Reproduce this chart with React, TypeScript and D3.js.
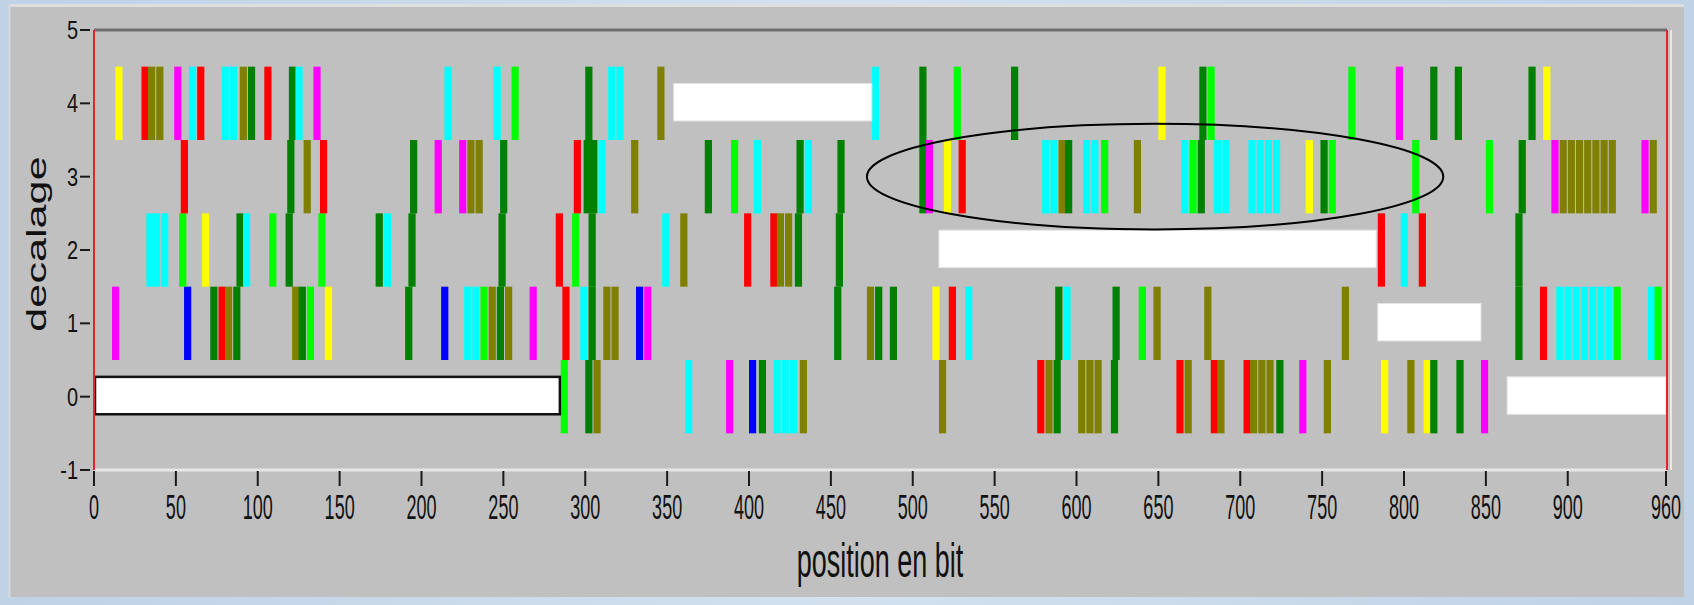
import React from "react";
import * as d3 from "d3";

// Bit positions (start of each marker) per shift level, with colour code
type Mark = [number, string];

const ROW_4: Mark[] = [
  [13, "Y"], [29, "R"], [33, "O"], [38, "O"], [49, "M"], [58, "C"], [63, "R"], [78, "C"], [83, "C"],
  [89, "O"], [94, "G"], [104, "R"], [119, "G"], [123, "C"], [134, "M"], [214, "C"], [244, "C"],
  [255, "L"], [300, "G"], [314, "C"], [319, "C"], [344, "O"], [475, "C"], [504, "G"], [525, "L"],
  [560, "G"], [650, "Y"], [675, "G"], [680, "L"], [766, "L"], [795, "M"], [816, "G"], [831, "G"],
  [876, "G"], [885, "Y"],
];

const ROW_3: Mark[] = [
  [53, "R"], [118, "G"], [128, "O"], [138, "R"], [193, "G"], [208, "M"], [223, "M"], [228, "O"],
  [233, "O"], [248, "G"], [293, "R"], [299, "G"], [303, "G"], [308, "C"], [328, "O"], [373, "G"],
  [389, "L"], [403, "C"], [429, "G"], [434, "C"], [454, "G"], [504, "G"], [508, "M"], [519, "Y"],
  [528, "R"], [579, "C"], [584, "C"], [589, "O"], [593, "G"], [604, "C"], [609, "C"], [615, "L"],
  [635, "O"], [664, "C"], [669, "L"], [674, "G"], [684, "C"], [689, "C"], [705, "C"], [710, "C"],
  [715, "C"], [720, "C"], [740, "Y"], [749, "G"], [754, "L"], [805, "L"], [850, "L"], [870, "G"],
  [890, "M"], [895, "O"], [900, "O"], [905, "O"], [910, "O"], [915, "O"], [920, "O"], [925, "O"],
  [945, "M"], [950, "O"],
];

const ROW_2: Mark[] = [
  [32, "C"], [36, "C"], [41, "C"], [52, "L"], [66, "Y"], [87, "G"], [91, "C"], [107, "L"],
  [117, "G"], [137, "L"], [172, "G"], [177, "C"], [192, "G"], [247, "G"], [282, "R"], [292, "L"],
  [302, "G"], [347, "C"], [358, "O"], [397, "R"], [413, "R"], [417, "O"], [422, "O"], [428, "G"],
  [453, "G"], [784, "R"], [798, "C"], [809, "R"], [868, "G"],
];

const ROW_1: Mark[] = [
  [11, "M"], [55, "B"], [71, "G"], [76, "R"], [80, "O"], [85, "G"], [121, "O"], [125, "G"],
  [130, "L"], [141, "Y"], [190, "G"], [212, "B"], [226, "C"], [231, "C"], [236, "L"], [241, "O"],
  [246, "G"], [251, "O"], [266, "M"], [286, "R"], [297, "C"], [302, "G"], [311, "O"], [316, "O"],
  [331, "B"], [336, "M"], [452, "G"], [472, "O"], [477, "G"], [486, "G"], [512, "Y"], [522, "R"],
  [532, "C"], [587, "G"], [592, "C"], [622, "G"], [638, "L"], [647, "O"], [678, "O"], [762, "O"],
  [868, "G"], [883, "R"], [893, "C"], [898, "C"], [903, "C"], [908, "C"], [913, "C"], [918, "C"],
  [923, "C"], [928, "L"], [949, "C"], [953, "L"],
];

const ROW_0: Mark[] = [
  [285, "L"], [300, "G"], [305, "O"], [361, "C"], [386, "M"], [400, "B"], [406, "G"], [415, "C"],
  [420, "C"], [425, "C"], [431, "O"], [516, "O"], [576, "R"], [581, "O"], [586, "G"], [601, "O"],
  [606, "O"], [611, "O"], [621, "G"], [661, "R"], [666, "O"], [682, "R"], [686, "O"], [702, "R"],
  [706, "O"], [711, "O"], [716, "O"], [722, "G"], [736, "M"], [751, "O"], [786, "Y"], [802, "O"],
  [812, "Y"], [816, "G"], [832, "G"], [847, "M"],
];

// Empty stretches (shift level, first bit, last bit, outlined)
const GAPS: [number, number, number, boolean][] = [
  [0, 0, 284.5, true],
  [4, 354, 475, false],
  [2, 516, 783, false],
  [1, 784, 847, false],
  [0, 863, 960, false],
];

// Circled region: centre bit, centre shift, half-width in bits, half-height in shift units
const CIRCLED = { bit: 648, shift: 3, rBits: 176, rShift: 0.72 };

const X_TICKS = [0, 50, 100, 150, 200, 250, 300, 350, 400, 450, 500, 550, 600, 650, 700, 750, 800, 850, 900, 960];
const Y_TICKS = [-1, 0, 1, 2, 3, 4, 5];

const PALETTE: Record<string, string> = {
  Y: "#ffff00",
  R: "#ff0000",
  O: "#808000",
  M: "#ff00ff",
  C: "#00ffff",
  G: "#008000",
  L: "#00ff00",
  B: "#0000ff",
};

const ROWS: [number, Mark[]][] = [
  [0, ROW_0],
  [1, ROW_1],
  [2, ROW_2],
  [3, ROW_3],
  [4, ROW_4],
];

const W = 1694;
const H = 605;
const MARK_WIDTH = 4.4; // bits
const FONT = "'Liberation Sans', Arial, sans-serif";

export default function App() {
  const x = d3.scaleLinear().domain([0, 960]).range([94, 1666]);
  const y = d3.scaleLinear().domain([-1, 5]).range([470, 30]);
  const left = x(0);
  const right = x(960);
  const top = y(5);
  const bottom = y(-1);

  return (
    <svg
      width={W}
      height={H}
      style={{ position: "absolute", left: 0, top: 0, display: "block" }}
      fontFamily={FONT}
    >
      <defs>
        <linearGradient id="frameBg" x1="0" x2="1" y1="0" y2="0">
          <stop offset="0" stopColor="#bfd2e6" />
          <stop offset="0.5" stopColor="#d3e1ef" />
          <stop offset="1" stopColor="#bfd2e6" />
        </linearGradient>
      </defs>
      <rect x={0} y={0} width={W} height={H} fill="url(#frameBg)" />
      <rect x={9} y={4} width={1675} height={593} fill="#c0c0c0" />
      <line x1={9} x2={1684} y1={5.5} y2={5.5} stroke="#dedede" strokeWidth={3} />
      <line x1={9.5} x2={9.5} y1={4} y2={597} stroke="#d8d8d8" strokeWidth={2} />

      {/* plot frame */}
      <line x1={left} x2={right + 1} y1={top} y2={top} stroke="#6f6f6f" strokeWidth={3} />
      <line x1={left} x2={right + 1} y1={bottom} y2={bottom} stroke="#e6e6e6" strokeWidth={3} />
      <line x1={right + 5} x2={right + 5} y1={top} y2={bottom} stroke="#e8e8e8" strokeWidth={2} />

      {/* markers */}
      {ROWS.map(([shift, marks]) =>
        marks.map(([bit, c], i) => (
          <rect
            key={`${shift}-${i}`}
            x={x(bit)}
            y={y(shift + 0.5)}
            width={x(bit + MARK_WIDTH) - x(bit)}
            height={y(shift - 0.5) - y(shift + 0.5)}
            fill={PALETTE[c]}
          />
        ))
      )}

      {/* empty stretches */}
      {GAPS.map(([shift, a, b, outlined], i) => (
        <rect
          key={`gap-${i}`}
          x={x(a) + (outlined ? 1 : 0)}
          y={y(shift + 0.27)}
          width={x(b) - x(a) - (outlined ? 1 : 0)}
          height={y(shift - 0.24) - y(shift + 0.27)}
          fill="#ffffff"
          stroke={outlined ? "#111" : "#e4e4e4"}
          strokeWidth={outlined ? 2.5 : 1}
        />
      ))}

      {/* axes lines */}
      <line x1={left} x2={left} y1={top} y2={bottom} stroke="#e3262b" strokeWidth={2} />
      <line x1={right + 1} x2={right + 1} y1={top} y2={bottom} stroke="#e3262b" strokeWidth={2} />

      {/* circled region */}
      <ellipse
        cx={x(CIRCLED.bit)}
        cy={y(CIRCLED.shift)}
        rx={x(CIRCLED.rBits) - x(0)}
        ry={y(0) - y(CIRCLED.rShift)}
        fill="none"
        stroke="#000"
        strokeWidth={2}
      />

      {/* y axis */}
      {Y_TICKS.map((t) => (
        <g key={`yt-${t}`}>
          <line x1={80} x2={90} y1={y(t)} y2={y(t)} stroke="#1a1a1a" strokeWidth={2} />
          <text
            transform={`translate(78,${y(t) + 9}) scale(0.95,1.25)`}
            textAnchor="end"
            fontSize={21}
            fill="#111"
          >
            {t}
          </text>
        </g>
      ))}

      {/* x axis */}
      {X_TICKS.map((t) => (
        <g key={`xt-${t}`}>
          <line x1={x(t)} x2={x(t)} y1={bottom + 1} y2={bottom + 16} stroke="#1a1a1a" strokeWidth={2} />
          <text
            transform={`translate(${x(t)},519) scale(1,1.95)`}
            textAnchor="middle"
            fontSize={18}
            fill="#111"
          >
            {t}
          </text>
        </g>
      ))}

      <text
        transform={`translate(${(left + right) / 2},577) scale(1,1.78)`}
        textAnchor="middle"
        fontSize={27}
        fill="#111"
      >
        position en bit
      </text>
      <text
        transform={`translate(46,244) rotate(-90) scale(1.6,1)`}
        textAnchor="middle"
        fontSize={27}
        fill="#111"
      >
        decalage
      </text>
    </svg>
  );
}
